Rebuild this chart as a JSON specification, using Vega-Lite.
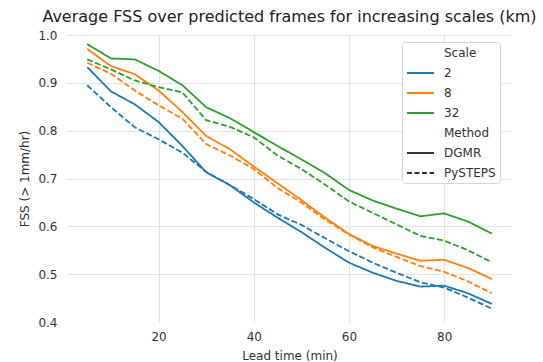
{
  "$schema": "https://vega.github.io/schema/vega-lite/v6.json",
  "width": 445,
  "height": 287,
  "autosize": {"type": "none"},
  "padding": {"left": 67, "top": 35, "right": 31, "bottom": 40},
  "background": "white",
  "title": {"text": "Average FSS over predicted frames for increasing scales (km)", "fontSize": 16, "fontWeight": "normal", "color": "#222", "anchor": "middle", "offset": 4},
  "data": {"values": [
    {"t":5,"scale":"2","method":"DGMR","fss":0.933},{"t":10,"scale":"2","method":"DGMR","fss":0.882},{"t":15,"scale":"2","method":"DGMR","fss":0.855},{"t":20,"scale":"2","method":"DGMR","fss":0.818},{"t":25,"scale":"2","method":"DGMR","fss":0.768},{"t":30,"scale":"2","method":"DGMR","fss":0.713},{"t":35,"scale":"2","method":"DGMR","fss":0.686},{"t":40,"scale":"2","method":"DGMR","fss":0.650},{"t":45,"scale":"2","method":"DGMR","fss":0.618},{"t":50,"scale":"2","method":"DGMR","fss":0.588},{"t":55,"scale":"2","method":"DGMR","fss":0.555},{"t":60,"scale":"2","method":"DGMR","fss":0.524},{"t":65,"scale":"2","method":"DGMR","fss":0.503},{"t":70,"scale":"2","method":"DGMR","fss":0.486},{"t":75,"scale":"2","method":"DGMR","fss":0.474},{"t":80,"scale":"2","method":"DGMR","fss":0.476},{"t":85,"scale":"2","method":"DGMR","fss":0.460},{"t":90,"scale":"2","method":"DGMR","fss":0.438},
    {"t":5,"scale":"2","method":"PySTEPS","fss":0.895},{"t":10,"scale":"2","method":"PySTEPS","fss":0.849},{"t":15,"scale":"2","method":"PySTEPS","fss":0.807},{"t":20,"scale":"2","method":"PySTEPS","fss":0.782},{"t":25,"scale":"2","method":"PySTEPS","fss":0.754},{"t":30,"scale":"2","method":"PySTEPS","fss":0.714},{"t":35,"scale":"2","method":"PySTEPS","fss":0.686},{"t":40,"scale":"2","method":"PySTEPS","fss":0.657},{"t":45,"scale":"2","method":"PySTEPS","fss":0.625},{"t":50,"scale":"2","method":"PySTEPS","fss":0.603},{"t":55,"scale":"2","method":"PySTEPS","fss":0.575},{"t":60,"scale":"2","method":"PySTEPS","fss":0.548},{"t":65,"scale":"2","method":"PySTEPS","fss":0.524},{"t":70,"scale":"2","method":"PySTEPS","fss":0.503},{"t":75,"scale":"2","method":"PySTEPS","fss":0.483},{"t":80,"scale":"2","method":"PySTEPS","fss":0.472},{"t":85,"scale":"2","method":"PySTEPS","fss":0.451},{"t":90,"scale":"2","method":"PySTEPS","fss":0.428},
    {"t":5,"scale":"8","method":"DGMR","fss":0.971},{"t":10,"scale":"8","method":"DGMR","fss":0.935},{"t":15,"scale":"8","method":"DGMR","fss":0.918},{"t":20,"scale":"8","method":"DGMR","fss":0.884},{"t":25,"scale":"8","method":"DGMR","fss":0.839},{"t":30,"scale":"8","method":"DGMR","fss":0.789},{"t":35,"scale":"8","method":"DGMR","fss":0.761},{"t":40,"scale":"8","method":"DGMR","fss":0.725},{"t":45,"scale":"8","method":"DGMR","fss":0.690},{"t":50,"scale":"8","method":"DGMR","fss":0.655},{"t":55,"scale":"8","method":"DGMR","fss":0.618},{"t":60,"scale":"8","method":"DGMR","fss":0.584},{"t":65,"scale":"8","method":"DGMR","fss":0.559},{"t":70,"scale":"8","method":"DGMR","fss":0.543},{"t":75,"scale":"8","method":"DGMR","fss":0.528},{"t":80,"scale":"8","method":"DGMR","fss":0.530},{"t":85,"scale":"8","method":"DGMR","fss":0.513},{"t":90,"scale":"8","method":"DGMR","fss":0.490},
    {"t":5,"scale":"8","method":"PySTEPS","fss":0.942},{"t":10,"scale":"8","method":"PySTEPS","fss":0.919},{"t":15,"scale":"8","method":"PySTEPS","fss":0.884},{"t":20,"scale":"8","method":"PySTEPS","fss":0.853},{"t":25,"scale":"8","method":"PySTEPS","fss":0.825},{"t":30,"scale":"8","method":"PySTEPS","fss":0.772},{"t":35,"scale":"8","method":"PySTEPS","fss":0.748},{"t":40,"scale":"8","method":"PySTEPS","fss":0.720},{"t":45,"scale":"8","method":"PySTEPS","fss":0.680},{"t":50,"scale":"8","method":"PySTEPS","fss":0.650},{"t":55,"scale":"8","method":"PySTEPS","fss":0.614},{"t":60,"scale":"8","method":"PySTEPS","fss":0.583},{"t":65,"scale":"8","method":"PySTEPS","fss":0.556},{"t":70,"scale":"8","method":"PySTEPS","fss":0.536},{"t":75,"scale":"8","method":"PySTEPS","fss":0.517},{"t":80,"scale":"8","method":"PySTEPS","fss":0.505},{"t":85,"scale":"8","method":"PySTEPS","fss":0.485},{"t":90,"scale":"8","method":"PySTEPS","fss":0.460},
    {"t":5,"scale":"32","method":"DGMR","fss":0.981},{"t":10,"scale":"32","method":"DGMR","fss":0.951},{"t":15,"scale":"32","method":"DGMR","fss":0.949},{"t":20,"scale":"32","method":"DGMR","fss":0.925},{"t":25,"scale":"32","method":"DGMR","fss":0.895},{"t":30,"scale":"32","method":"DGMR","fss":0.849},{"t":35,"scale":"32","method":"DGMR","fss":0.826},{"t":40,"scale":"32","method":"DGMR","fss":0.797},{"t":45,"scale":"32","method":"DGMR","fss":0.768},{"t":50,"scale":"32","method":"DGMR","fss":0.740},{"t":55,"scale":"32","method":"DGMR","fss":0.711},{"t":60,"scale":"32","method":"DGMR","fss":0.676},{"t":65,"scale":"32","method":"DGMR","fss":0.654},{"t":70,"scale":"32","method":"DGMR","fss":0.637},{"t":75,"scale":"32","method":"DGMR","fss":0.621},{"t":80,"scale":"32","method":"DGMR","fss":0.627},{"t":85,"scale":"32","method":"DGMR","fss":0.610},{"t":90,"scale":"32","method":"DGMR","fss":0.585},
    {"t":5,"scale":"32","method":"PySTEPS","fss":0.949},{"t":10,"scale":"32","method":"PySTEPS","fss":0.928},{"t":15,"scale":"32","method":"PySTEPS","fss":0.905},{"t":20,"scale":"32","method":"PySTEPS","fss":0.891},{"t":25,"scale":"32","method":"PySTEPS","fss":0.880},{"t":30,"scale":"32","method":"PySTEPS","fss":0.822},{"t":35,"scale":"32","method":"PySTEPS","fss":0.808},{"t":40,"scale":"32","method":"PySTEPS","fss":0.786},{"t":45,"scale":"32","method":"PySTEPS","fss":0.748},{"t":50,"scale":"32","method":"PySTEPS","fss":0.720},{"t":55,"scale":"32","method":"PySTEPS","fss":0.687},{"t":60,"scale":"32","method":"PySTEPS","fss":0.652},{"t":65,"scale":"32","method":"PySTEPS","fss":0.628},{"t":70,"scale":"32","method":"PySTEPS","fss":0.604},{"t":75,"scale":"32","method":"PySTEPS","fss":0.580},{"t":80,"scale":"32","method":"PySTEPS","fss":0.570},{"t":85,"scale":"32","method":"PySTEPS","fss":0.550},{"t":90,"scale":"32","method":"PySTEPS","fss":0.525}
  ]},
  "mark": {"type": "line", "strokeWidth": 1.8},
  "encoding": {
    "x": {"field": "t", "type": "quantitative", "scale": {"domain": [0.75, 94.25], "nice": false, "zero": false},
      "axis": {"title": "Lead time (min)", "values": [20, 40, 60, 80], "labelPadding": 9, "titlePadding": 8}},
    "y": {"field": "fss", "type": "quantitative", "scale": {"domain": [0.4, 1.0], "nice": false, "zero": false},
      "axis": {"title": "FSS (> 1mm/hr)", "values": [0.4, 0.5, 0.6, 0.7, 0.8, 0.9, 1.0], "format": ".1f", "labelPadding": 10, "titlePadding": 6,
        "gridOpacity": {"condition": {"test": "datum.value <= 0.4", "value": 0}, "value": 1}}},
    "color": {"field": "scale", "type": "nominal",
      "scale": {"domain": ["Scale", "2", "8", "32", "Method", "DGMR", "PySTEPS"],
                "range": ["rgba(0,0,0,0)", "#1f77b4", "#ff7f0e", "#2ca02c", "rgba(0,0,0,0)", "#333333", "#333333"]},
      "legend": {"orient": "none", "legendX": 335, "legendY": 7, "title": null, "symbolType": "stroke", "symbolSize": 729, "symbolStrokeWidth": 2,
        "labelFontSize": 12, "labelColor": "#333", "padding": 4, "rowPadding": 7, "labelOffset": 9,
        "strokeColor": "#d5d5d5", "fillColor": "rgba(255,255,255,0.9)", "cornerRadius": 3,
        "encode": {
          "symbols": {"update": {"y": {"value": 7}, "strokeDash": {"signal": "datum.value === 'PySTEPS' ? [5, 2.5] : [1, 0]"}}},
          "labels": {"update": {"y": {"value": 7}}}}}},
    "strokeDash": {"field": "method", "type": "nominal",
      "scale": {"domain": ["DGMR", "PySTEPS"], "range": [[1, 0], [6, 2.5]]}, "legend": null}
  },
  "config": {
    "font": "DejaVu Sans",
    "view": {"stroke": null},
    "axis": {"domain": false, "ticks": false, "gridColor": "#e2e2e2", "gridWidth": 1.2, "labelColor": "#333", "titleColor": "#333",
      "labelFontSize": 12, "titleFontSize": 12, "titleFontWeight": "normal"}
  }
}
